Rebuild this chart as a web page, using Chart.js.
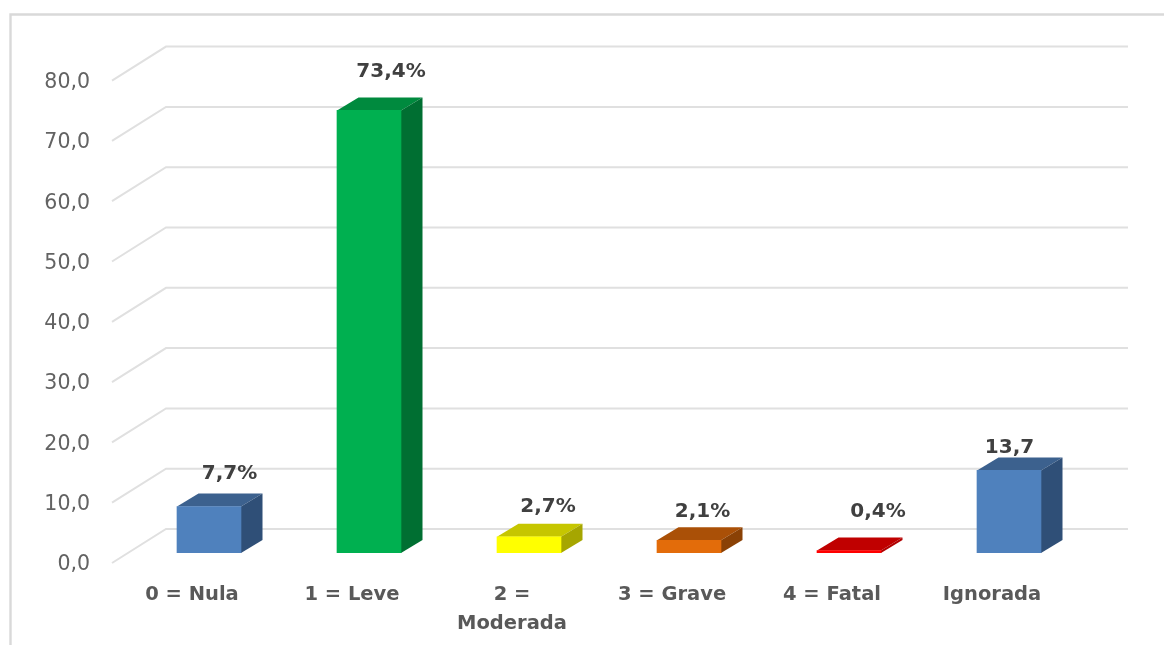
<!DOCTYPE html>
<html><head><meta charset="utf-8">
<style>html,body{margin:0;padding:0;background:#fff}canvas{display:block}</style>
<script src="https://cdn.jsdelivr.net/npm/chart.js@4/dist/chart.umd.min.js"></script>
</head><body><canvas id="c" width="1164" height="645"></canvas>
<script>
const categories = ["0 = Nula", "1 = Leve", ["2 =", "Moderada"], "3 = Grave", "4 = Fatal", "Ignorada"];
const values = [7.7, 73.4, 2.7, 2.1, 0.4, 13.7];
const valueLabels = ["7,7%", "73,4%", "2,7%", "2,1%", "0,4%", "13,7"];
const frontColors = ["#4f81bd", "#00b050", "#ffff00", "#e36c0a", "#ff0000", "#4f81bd"];
const topColors = ["#3c618e", "#008a3e", "#c6c600", "#aa5007", "#c00000", "#3c618e"];
const sideColors = ["#2f4f77", "#006f32", "#a6a600", "#8a4105", "#b00000", "#2f4f77"];
const labelShift = [[20.5, 20], [22, 25.5], [19, 17], [13.5, 16], [29, 26], [0.5, 10]];

const DEPTH_X = 21.5, DEPTH_Y = 13;
const GRID = "#e0e0e0";

const scene = {
  id: "scene",
  beforeDraw(chart) {
    const c = chart.ctx;
    c.save();
    c.strokeStyle = "#d9d9d9"; c.lineWidth = 2.4;
    c.beginPath(); c.moveTo(10.5, 645); c.lineTo(10.5, 14.5); c.lineTo(1164, 14.5); c.stroke();
    const y = chart.scales.y;
    c.strokeStyle = GRID; c.lineWidth = 2;
    y.ticks.forEach(t => {
      const p = y.getPixelForValue(t.value);
      c.beginPath(); c.moveTo(112, p + 10); c.lineTo(166, p - 24); c.lineTo(1128, p - 24); c.stroke();
    });
    c.restore();
  },
  beforeDatasetsDraw(chart) {
    const c = chart.ctx;
    chart.getDatasetMeta(0).data.forEach((b, i) => {
      const l = b.x - b.width / 2, r = b.x + b.width / 2, t = b.y, s = b.base;
      c.fillStyle = topColors[i];
      c.beginPath(); c.moveTo(l, t); c.lineTo(l + DEPTH_X, t - DEPTH_Y); c.lineTo(r + DEPTH_X, t - DEPTH_Y); c.lineTo(r, t); c.closePath(); c.fill();
      c.fillStyle = sideColors[i];
      c.beginPath(); c.moveTo(r, t); c.lineTo(r + DEPTH_X, t - DEPTH_Y); c.lineTo(r + DEPTH_X, s - DEPTH_Y); c.lineTo(r, s); c.closePath(); c.fill();
    });
  },
  afterDatasetsDraw(chart) {
    const c = chart.ctx;
    c.save();
    c.font = "bold 20px 'DejaVu Sans'"; c.fillStyle = "#404040";
    c.textAlign = "center"; c.textBaseline = "middle";
    chart.getDatasetMeta(0).data.forEach((b, i) => {
      c.fillText(valueLabels[i], b.x + labelShift[i][0], b.y - DEPTH_Y - labelShift[i][1]);
    });
    c.restore();
  }
};

new Chart(document.getElementById("c"), {
  type: "bar",
  data: { labels: categories, datasets: [{ data: values, backgroundColor: frontColors, barThickness: 64, borderWidth: 0 }] },
  plugins: [scene],
  options: {
    responsive: false, animation: false,
    layout: { padding: { top: 70.6, right: 75, left: 0, bottom: 0 } },
    plugins: { legend: { display: false }, tooltip: { enabled: false }, title: { display: false } },
    scales: {
      x: {
        grid: { display: false }, border: { display: false },
        afterFit(s) { s.height = 92; },
        ticks: { color: "#595959", font: { family: "'DejaVu Sans'", size: 19.5, weight: "bold", lineHeight: 1.5 }, labelOffset: -17, padding: 19, maxRotation: 0, autoSkip: false }
      },
      y: {
        min: 0, max: 80,
        grid: { display: false }, border: { display: false },
        afterFit(s) { s.width = 129; },
        ticks: { stepSize: 10, color: "#636363", font: { family: "'DejaVu Sans'", size: 20.5 }, padding: 31, labelOffset: 12, callback: v => v.toFixed(1).replace(".", ",") }
      }
    }
  }
});
</script></body></html>
